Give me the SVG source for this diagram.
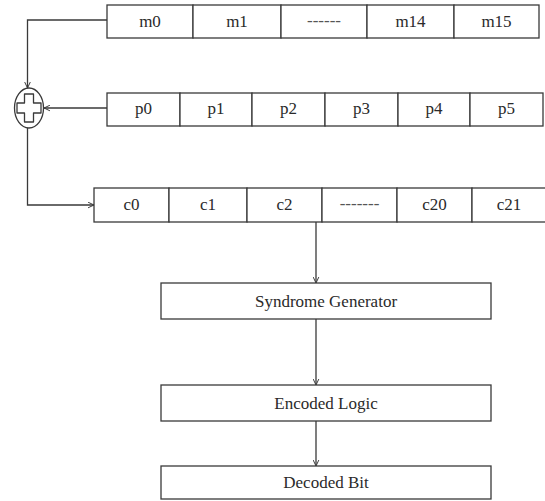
<svg xmlns="http://www.w3.org/2000/svg" width="545" height="501" viewBox="0 0 545 501">
  <style>
    .cell { fill: #ffffff; stroke: #3a3a3a; stroke-width: 1.3; }
    .lbl { font-family: "Liberation Serif", "Times New Roman", serif; font-size: 17px; fill: #2a2a2a; text-anchor: middle; }
    .dash { font-family: "Liberation Serif", "Times New Roman", serif; font-size: 17px; fill: #555555; text-anchor: middle; }
    .wire { fill: none; stroke: #3a3a3a; stroke-width: 1.3; }
    .xor { fill: #ffffff; stroke: #3a3a3a; stroke-width: 1.3; }
  </style>
  <defs>
    <marker id="arrow" viewBox="0 0 10 10" refX="9.5" refY="5" markerWidth="7" markerHeight="7" markerUnits="userSpaceOnUse" orient="auto">
      <path d="M1,1 L9.5,5 L1,9" fill="none" stroke="#3a3a3a" stroke-width="1.4"/>
    </marker>
  </defs>
  <rect width="545" height="501" fill="#ffffff"/>

  <!-- message register m0..m15 -->
  <g id="message-register">
    <rect class="cell" x="107" y="5" width="86" height="33"/>
    <rect class="cell" x="193" y="5" width="88" height="33"/>
    <rect class="cell" x="281" y="5" width="86" height="33"/>
    <rect class="cell" x="367" y="5" width="87" height="33"/>
    <rect class="cell" x="454" y="5" width="85" height="33"/>
    <text class="lbl" x="150" y="27">m0</text>
    <text class="lbl" x="237" y="27">m1</text>
    <text class="dash" x="324" y="26">------</text>
    <text class="lbl" x="410.5" y="27">m14</text>
    <text class="lbl" x="496.5" y="27">m15</text>
  </g>

  <!-- parity register p0..p5 -->
  <g id="parity-register">
    <rect class="cell" x="107" y="93" width="73" height="33"/>
    <rect class="cell" x="180" y="93" width="72" height="33"/>
    <rect class="cell" x="252" y="93" width="73" height="33"/>
    <rect class="cell" x="325" y="93" width="73" height="33"/>
    <rect class="cell" x="398" y="93" width="72" height="33"/>
    <rect class="cell" x="470" y="93" width="73" height="33"/>
    <text class="lbl" x="143.5" y="114">p0</text>
    <text class="lbl" x="216" y="114">p1</text>
    <text class="lbl" x="288.5" y="114">p2</text>
    <text class="lbl" x="361.5" y="114">p3</text>
    <text class="lbl" x="434" y="114">p4</text>
    <text class="lbl" x="506.5" y="114">p5</text>
  </g>

  <!-- XOR adder -->
  <g id="xor-adder">
    <ellipse class="xor" cx="29" cy="108" rx="14.5" ry="20"/>
    <polygon class="xor" stroke-linejoin="round"
      points="24.5,94 33.5,94 33.5,103 41,103 41,113 33.5,113 33.5,122 24.5,122 24.5,113 17,113 17,103 24.5,103"/>
  </g>

  <!-- codeword register c0..c21 -->
  <g id="codeword-register">
    <rect class="cell" x="94" y="188" width="75" height="34"/>
    <rect class="cell" x="169" y="188" width="78" height="34"/>
    <rect class="cell" x="247" y="188" width="75" height="34"/>
    <rect class="cell" x="322" y="188" width="75" height="34"/>
    <rect class="cell" x="397" y="188" width="75" height="34"/>
    <rect class="cell" x="472" y="188" width="75" height="34"/>
    <text class="lbl" x="131.5" y="210">c0</text>
    <text class="lbl" x="208" y="210">c1</text>
    <text class="lbl" x="284.5" y="210">c2</text>
    <text class="dash" x="359.5" y="209">-------</text>
    <text class="lbl" x="434.5" y="210">c20</text>
    <text class="lbl" x="509" y="210">c21</text>
  </g>

  <!-- processing blocks -->
  <g id="syndrome-generator">
    <rect class="cell" x="161" y="283" width="330" height="36"/>
    <text class="lbl" x="326" y="306.5">Syndrome Generator</text>
  </g>
  <g id="encoded-logic">
    <rect class="cell" x="161" y="385" width="330" height="36"/>
    <text class="lbl" x="326" y="408.5">Encoded Logic</text>
  </g>
  <g id="decoded-bit">
    <rect class="cell" x="161" y="466" width="330" height="33"/>
    <text class="lbl" x="326" y="488">Decoded Bit</text>
  </g>

  <!-- connectors -->
  <g id="connectors">
    <path class="wire" d="M107,20 H27.5 V88" marker-end="url(#arrow)"/>
    <path class="wire" d="M107,108 H44" marker-end="url(#arrow)"/>
    <path class="wire" d="M27.5,128 V205 H94" marker-end="url(#arrow)"/>
    <path class="wire" d="M316,222 V283" marker-end="url(#arrow)"/>
    <path class="wire" d="M316,319 V385" marker-end="url(#arrow)"/>
    <path class="wire" d="M316,421 V466" marker-end="url(#arrow)"/>
  </g>
</svg>
